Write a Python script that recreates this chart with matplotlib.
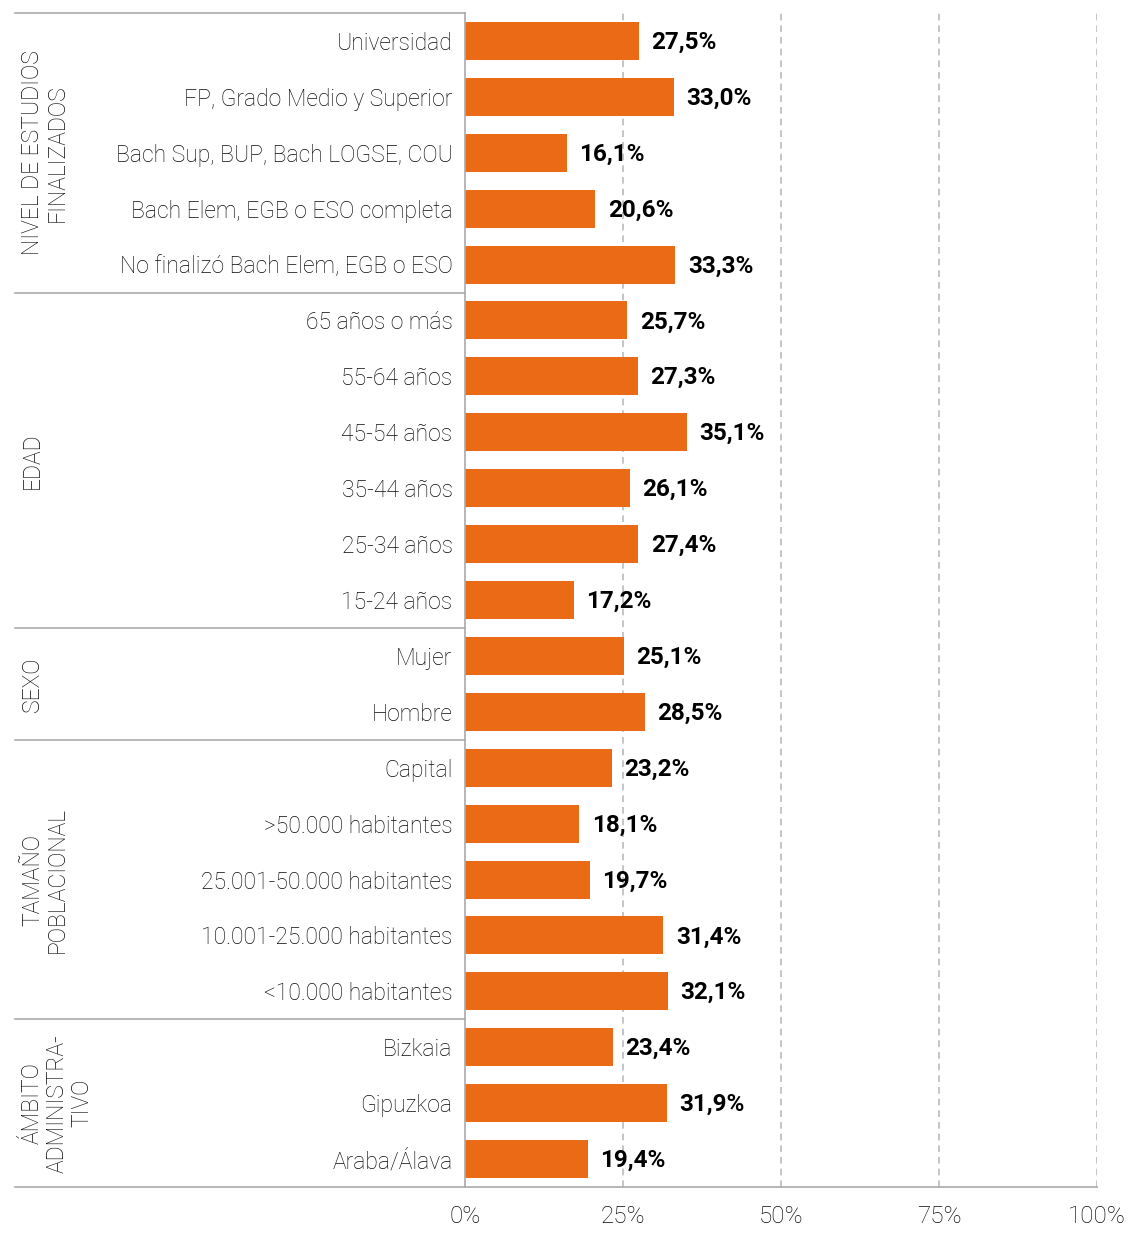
import matplotlib.pyplot as plt

plt.rcParams['font.family'] = ['Roboto', 'DejaVu Sans']

# Datos
categorias = [
    "Universidad", "FP, Grado Medio y Superior", "Bach Sup, BUP, Bach LOGSE, COU",
    "Bach Elem, EGB o ESO completa", "No finalizó Bach Elem, EGB o ESO",
    "65 años o más", "55-64 años", "45-54 años", "35-44 años", "25-34 años", "15-24 años",
    "Mujer", "Hombre",
    "Capital", ">50.000 habitantes", "25.001-50.000 habitantes",
    "10.001-25.000 habitantes", "<10.000 habitantes",
    "Bizkaia", "Gipuzkoa", "Araba/Álava",
]
valores = [27.5, 33.0, 16.1, 20.6, 33.3,
           25.7, 27.3, 35.1, 26.1, 27.4, 17.2,
           25.1, 28.5,
           23.2, 18.1, 19.7, 31.4, 32.1,
           23.4, 31.9, 19.4]
grupos = ["NIVEL DE ESTUDIOS\nFINALIZADOS", "EDAD", "SEXO",
          "TAMAÑO\nPOBLACIONAL", "ÁMBITO\nADMINISTRA-\nTIVO"]
tam_grupos = [5, 6, 2, 5, 3]
ticks = [0, 25, 50, 75, 100]

naranja = '#EA6A15'
gris = '#AAAAAA'
texto = '#0A0A0A'

fig = plt.figure(figsize=(11.29, 12.54), dpi=100)
ax = fig.add_axes([465 / 1129, 1 - 1187 / 1254, 632 / 1129, 1174 / 1254])

y = list(range(len(categorias)))
ax.barh(y, valores, height=0.68, color=naranja, zorder=2)
ax.set_ylim(len(categorias) - 0.5, -0.5)
ax.set_xlim(0, 100)

for yi, v in zip(y, valores):
    ax.annotate(f"{v:.1f}%".replace('.', ','), (v, yi), xytext=(9, -1),
                textcoords='offset points', va='center', ha='left',
                fontsize=17.5, fontweight='bold', color='#000000', zorder=3)

ax.set_yticks(y)
ax.set_yticklabels(categorias, fontsize=16.5, fontweight='light', color=texto)
ax.set_xticks(ticks)
ax.set_xticklabels([f"{t}%" for t in ticks], fontsize=17.5, fontweight='light', color=texto)
ax.tick_params(axis='y', length=0, pad=9)
ax.tick_params(axis='x', length=0, pad=13)

for t in ticks[1:]:
    ax.axvline(t, color='#BBBBBB', lw=1.2, ls=(0, (4, 3)), zorder=1)

for s in ['top', 'right']:
    ax.spines[s].set_visible(False)
for s in ['left', 'bottom']:
    ax.spines[s].set_color(gris)
    ax.spines[s].set_linewidth(1.2)

# Separadores de grupos y etiquetas de grupo
x_izq = (15 - 465) / 632
x_txt = (21 - 465) / 632
inicio = 0
trans = ax.get_yaxis_transform()
ax.plot([x_izq, 0], [-0.5, -0.5], transform=trans, color=gris, lw=1.2, clip_on=False)
for g, n in zip(grupos, tam_grupos):
    fin = inicio + n
    ax.plot([x_izq, 0], [fin - 0.5, fin - 0.5], transform=trans, color=gris, lw=1.2, clip_on=False)
    ax.text(x_txt, (inicio + fin - 1) / 2, g, transform=trans, rotation=90,
            ha='left', va='center', multialignment='center', linespacing=1.1,
            fontsize=16.5, fontweight='light', color=texto)
    inicio = fin

fig.savefig("out.png", dpi=100)
